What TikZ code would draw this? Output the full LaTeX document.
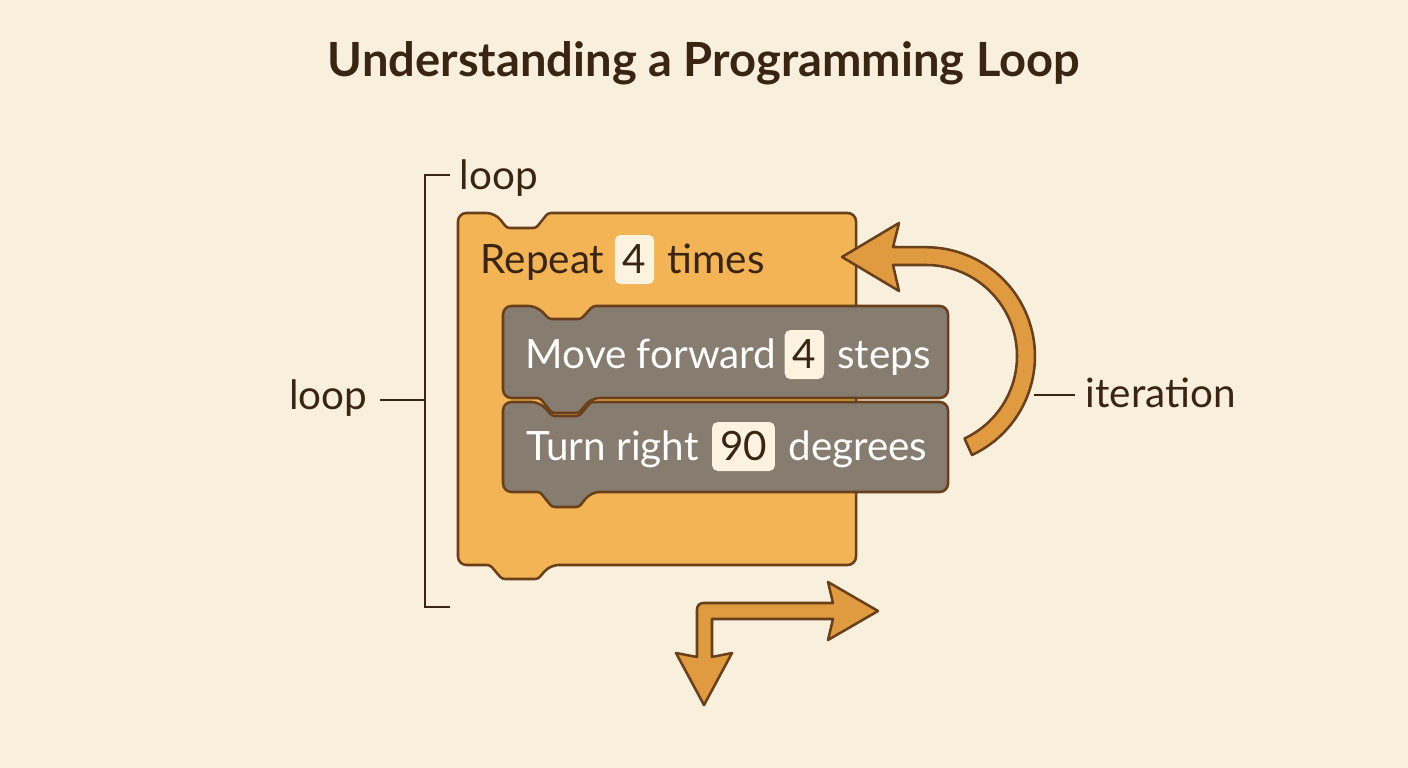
\documentclass[tikz,border=0pt]{standalone}
\usepackage{fontspec}
\setmainfont{Lato}
\usetikzlibrary{positioning}
\definecolor{bgcream}{HTML}{F8F0DC}
\definecolor{blockorange}{HTML}{F2B455}
\definecolor{edgebrown}{HTML}{6A3F1C}
\definecolor{blockgray}{HTML}{877C70}
\definecolor{arroworange}{HTML}{E09B40}
\definecolor{numfill}{HTML}{FBF3DF}
\definecolor{inkbrown}{HTML}{3A2412}
\tikzset{
  blockline/.style={draw=edgebrown, line width=0.72pt, line join=round},
  lbl/.style={text=inkbrown, inner sep=0pt, font=\fontsize{11.5}{13}\selectfont},
  graytxt/.style={text=white, inner sep=0pt, font=\fontsize{11.5}{13}\selectfont},
  numbox/.style={fill=numfill, rounded corners=1.6pt, text=inkbrown, inner xsep=0.8mm,
    inner ysep=0pt, minimum height=4.9mm, font=\fontsize{11.5}{13}\selectfont},
  guide/.style={draw=inkbrown, line width=0.45pt}
}

\begin{document}
\begin{tikzpicture}[x=0.1mm, y=-0.1mm]
      \fill[bgcream] (0,0) rectangle (1408,768);

      % title
      \node[text=inkbrown, font=\fontsize{13.4}{16}\bfseries] (title) at (704,63) {Understanding a Programming Loop};

      % loop block
      \filldraw[blockline, fill=blockorange, rounded corners=2.4pt] (458,400) -- (458,213) -- (495,213)
        [rounded corners=0.8pt] -- (507,228) -- (536,228) -- (548,213)
        [rounded corners=2.4pt] -- (856,213) -- (856,565) -- (550,565)
        [rounded corners=0.8pt] -- (538,579) -- (502,579) -- (490,565)
        [rounded corners=2.4pt] -- (458,565) -- cycle;

      % turn block
      \filldraw[blockline, fill=blockgray, rounded corners=2.4pt] (503,450) -- (503,402) -- (540,402)
        [rounded corners=0.8pt] -- (552,416) -- (579,416) -- (591,402)
        [rounded corners=2.4pt] -- (948,402) -- (948,492) -- (591,492)
        [rounded corners=0.8pt] -- (579,507) -- (552,507) -- (540,492)
        [rounded corners=2.4pt] -- (503,492) -- cycle;

      % move block
      \filldraw[blockline, fill=blockgray, rounded corners=2.4pt] (503,350) -- (503,306) -- (537,306)
        [rounded corners=0.8pt] -- (549,319) -- (581,319) -- (593,306)
        [rounded corners=2.4pt] -- (948,306) -- (948,398) -- (591,398)
        [rounded corners=0.8pt] -- (579,413) -- (552,413) -- (540,398)
        [rounded corners=2.4pt] -- (503,398) -- cycle;

      % block texts
      \node[lbl, anchor=base west] (rep) at (480,274) {Repeat};
      \node[numbox, base right=0.9mm of rep] (repn) {4};
      \node[lbl, base right=1.2mm of repn] (times) {times};

      \node[graytxt, anchor=base west] (mov) at (525,369) {Move forward};
      \node[numbox, base right=0.7mm of mov] (movn) {4};
      \node[graytxt, base right=1.2mm of movn] (steps) {steps};

      \node[graytxt, anchor=base west] (turn) at (526,461) {Turn right};
      \node[numbox, base right=1.2mm of turn] (turnn) {90};
      \node[graytxt, base right=1.2mm of turnn] (deg) {degrees};

      % iteration arrow
      \filldraw[blockline, fill=arroworange] (972,455) arc[start angle=65, end angle=-90, radius=109]
        -- (893,247) -- (899,223) -- (842,257) -- (899,291) -- (893,265) -- (926,265)
        arc[start angle=-90, end angle=65, radius=91] -- cycle;

      % next step arrow
      \filldraw[blockline, fill=arroworange] (697,657) [rounded corners=1.8pt] -- (697,603) [sharp corners]
        -- (833,603) -- (828,582) -- (878,611) -- (828,640) -- (833,619) -- (712,619)
        -- (712,657) -- (732,653) -- (704,705) -- (676,653) -- cycle;

      % bracket and labels
      \draw[guide] (450,175) -- (425,175) -- (425,607) -- (450,607);
      \coordinate (brk) at (425,400);
      \coordinate (arcedge) at (1034,395);
      \node[lbl, anchor=base west] (looptop) at (459,190) {loop};
      \node[lbl, anchor=base east] (loopmid) at (368,410) {loop};
      \node[lbl, anchor=base west] (iter) at (1085,408) {iteration};
      \draw[guide] (loopmid.east |- brk) ++(12,0) -- (brk);
      \draw[guide] (arcedge) -- ([xshift=-1mm]iter.west |- arcedge);
    \end{tikzpicture}
\end{document}
